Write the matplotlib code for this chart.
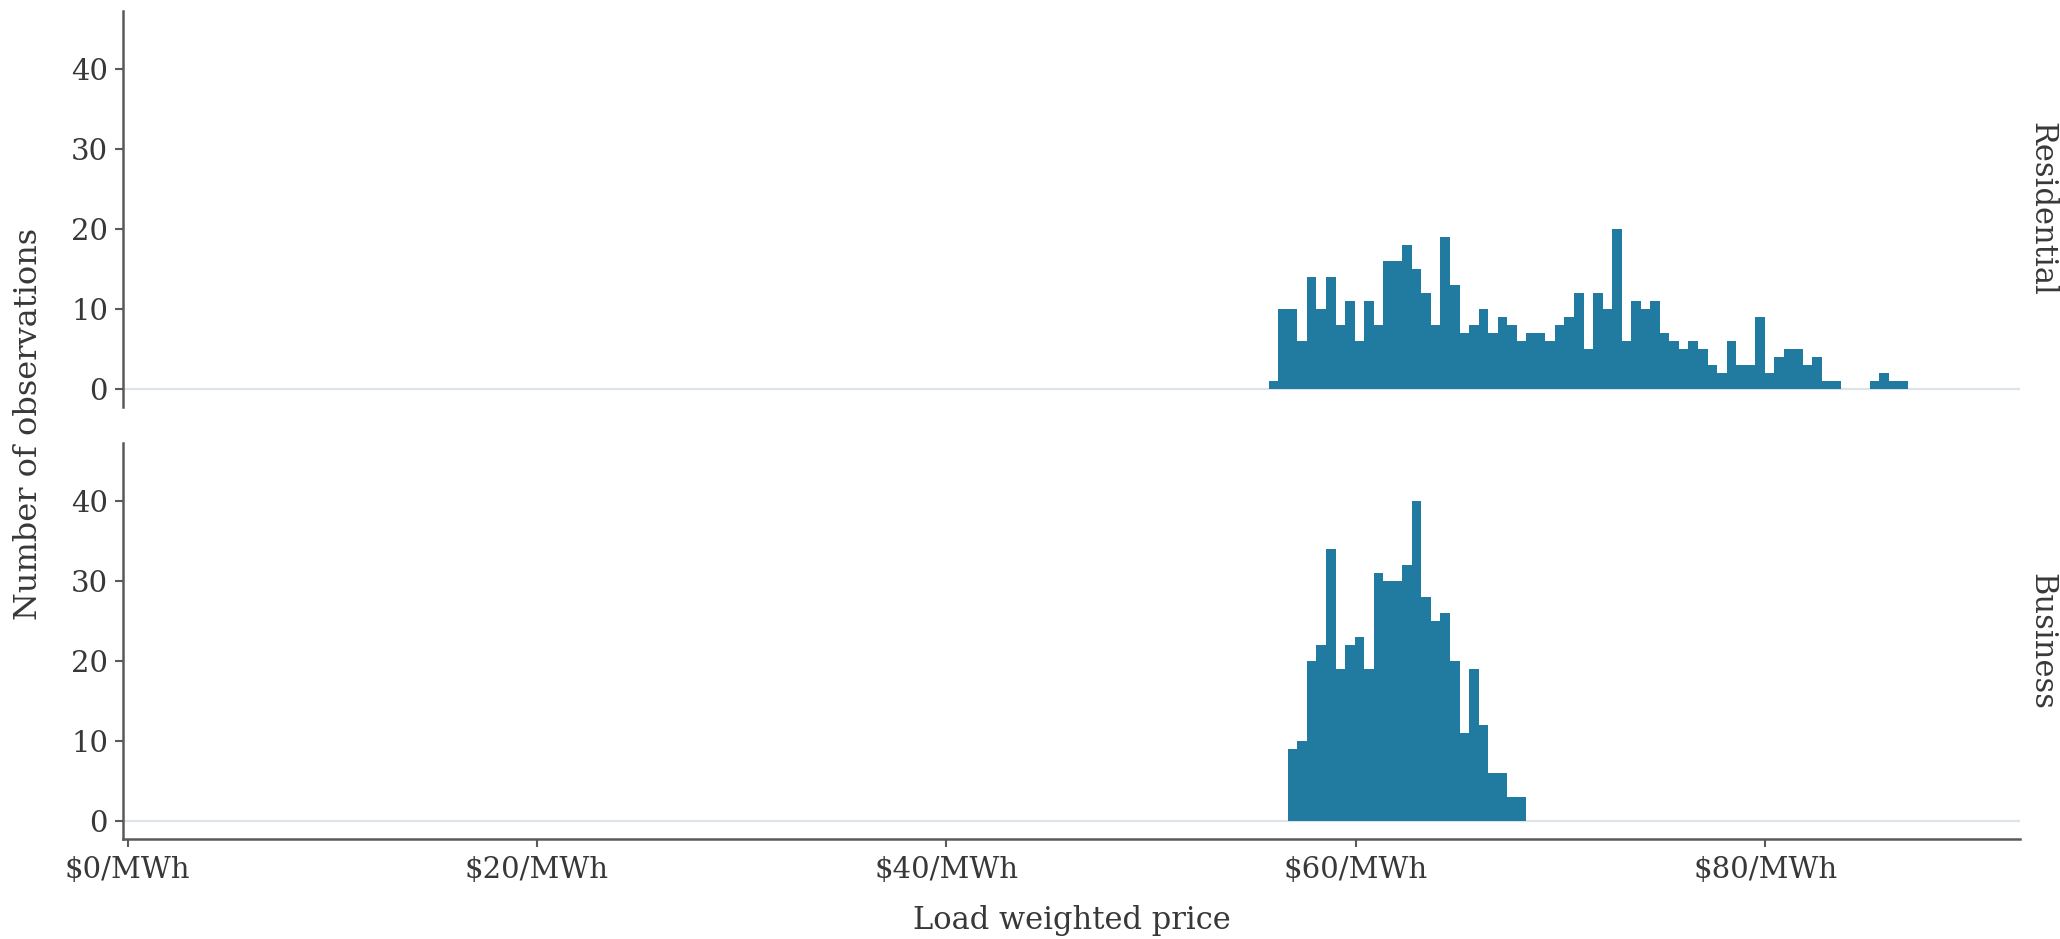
import matplotlib
matplotlib.use("Agg")
import matplotlib.pyplot as plt
import numpy as np

# ---- data ----
bin_start = 55.75          # $/MWh, left edge of first bin
bin_width = 0.466          # $/MWh
residential_counts = [1, 10, 10, 6, 14, 10, 14, 8, 11, 6, 11, 8, 16, 16, 18, 15, 12, 8,
                      19, 13, 7, 8, 10, 7, 9, 8, 6, 7, 7, 6, 8, 9, 12, 5, 12, 10, 20, 6,
                      11, 10, 11, 7, 6, 5, 6, 5, 3, 2, 6, 3, 3, 9, 2, 4, 5, 5, 3, 4, 1, 1,
                      0, 0, 0, 1, 2, 1, 1]
business_first_bin = 2
business_counts = [9, 10, 20, 22, 34, 19, 22, 23, 19, 31, 30, 30, 32, 40, 28, 25, 26, 20,
                   11, 19, 12, 6, 6, 3, 3]
panels = ["Residential", "Business"]
x_ticks = [0, 20, 40, 60, 80]
x_tick_labels = ["$0/MWh", "$20/MWh", "$40/MWh", "$60/MWh", "$80/MWh"]
y_ticks = [0, 10, 20, 30, 40]

# ---- style ----
BAR = "#217aa0"
TXT = "#383838"
AXC = "#5a5a5a"
GRID = "#dce3ea"
FONT = "DejaVu Serif"
plt.rcParams["font.family"] = [FONT]

W, H = 2060, 939
fig = plt.figure(figsize=(W / 100, H / 100), dpi=100)

left = 123.3 / W
width = (2020 - 123.3) / W
ph = 396 / H
ax_top = fig.add_axes([left, 1 - 407 / H, width, ph])
ax_bot = fig.add_axes([left, 1 - 839 / H, width, ph])

xlim = (-0.21, 92.45)
ylim = (-2.25, 47.25)

series = [
    (ax_top, residential_counts, 0),
    (ax_bot, business_counts, business_first_bin),
]
for ax, counts, first in series:
    edges = bin_start + bin_width * (first + np.arange(len(counts)))
    ax.axhline(0, color=GRID, lw=1.6, zorder=0)
    ax.bar(edges, counts, width=bin_width, align="edge", color=BAR,
           linewidth=0, zorder=2)
    ax.set_xlim(*xlim)
    ax.set_ylim(*ylim)
    ax.set_yticks(y_ticks)
    ax.set_yticklabels([str(v) for v in y_ticks], fontsize=21, color=TXT)
    for s in ["top", "right"]:
        ax.spines[s].set_visible(False)
    ax.spines["left"].set_color(AXC)
    ax.spines["left"].set_linewidth(1.8)
    ax.tick_params(axis="y", length=6, width=1.5, color=AXC, pad=5)
    ax.set_facecolor("white")

ax_top.spines["bottom"].set_visible(False)
ax_top.set_xticks([])

ax_bot.spines["bottom"].set_color(AXC)
ax_bot.spines["bottom"].set_linewidth(1.8)
ax_bot.set_xticks(x_ticks)
ax_bot.set_xticklabels(x_tick_labels, fontsize=21, color=TXT)
ax_bot.tick_params(axis="x", length=6, width=1.5, color=AXC, pad=6)

# facet strip labels
for ax, name in zip([ax_top, ax_bot], panels):
    ax.text(1.0115, 0.5, name, transform=ax.transAxes, rotation=-90,
            ha="center", va="center", fontsize=22, color=TXT)

fig.text(1071.5 / W, 1 - 921 / H, "Load weighted price", ha="center", va="center",
         fontsize=22, color=TXT)
fig.text(29 / W, 1 - 424 / H, "Number of observations", ha="center", va="center",
         rotation=90, fontsize=23, color=TXT)

fig.savefig("out.png", dpi=100, facecolor="white")
